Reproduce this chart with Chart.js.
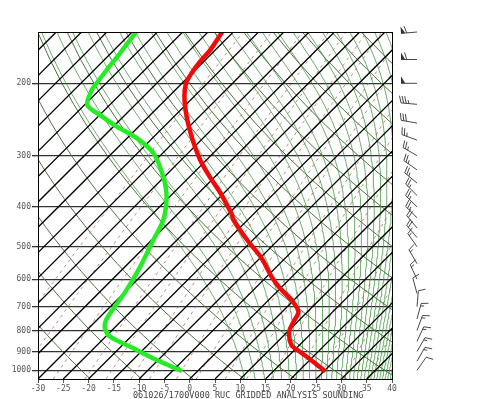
<!DOCTYPE html>
<html>
<head>
<meta charset="utf-8">
<script src="https://cdn.jsdelivr.net/npm/chart.js@4/dist/chart.umd.min.js"></script>
<style>
  body { margin: 0; background: #fff; }
  #wrap { width: 500px; height: 399px; }
</style>
</head>
<body>
<div id="wrap"><canvas id="skewt"></canvas></div>
<script>
// sounding: pressure (hPa) and temperature (C)
let tempP = [150, 166, 177, 189, 200, 216, 241, 270, 307, 338, 370, 415, 430, 481, 534, 592, 631, 674, 720, 761, 805, 868, 901, 953, 1000];
let tempC = [-62.2, -61.0, -60.7, -60.1, -59.2, -56.8, -52.5, -47.5, -41.3, -36.0, -30.7, -24.5, -22.8, -16.2, -9.6, -4.0, -0.1, 4.5, 8.2, 9.2, 10.3, 13.4, 16.4, 21.0, 24.8];
let dewP = [150, 169, 186, 200, 208, 226, 239, 255, 272, 296, 338, 378, 430, 481, 559, 637, 700, 754, 790, 828, 884, 944, 1000];
let dewC = [-79.2, -78.2, -77.5, -76.9, -76.5, -74.4, -69.9, -64.3, -58.1, -51.8, -45.2, -40.6, -36.7, -34.7, -32.0, -30.1, -29.1, -28.2, -26.8, -24.1, -17.2, -10.3, -3.6];

// wind barbs: level (hPa), direction (deg, from), speed (kt)
let barbP = [150, 175, 200, 225, 250, 275, 300, 325, 350, 375, 400, 425, 450, 475, 500, 550, 600, 650, 700, 750, 800, 850, 900, 950, 1000];
let barbDir = [265, 270, 270, 275, 280, 290, 300, 305, 310, 315, 315, 315, 320, 320, 325, 330, 335, 345, 5, 15, 20, 25, 30, 30, 35];
let barbSpd = [60, 60, 50, 35, 30, 25, 25, 25, 25, 25, 25, 25, 20, 20, 15, 15, 15, 10, 10, 15, 15, 15, 15, 15, 10];

let tempTicks = [-30, -25, -20, -15, -10, -5, 0, 5, 10, 15, 20, 25, 30, 35, 40];
let presTicks = [200, 300, 400, 500, 600, 700, 800, 900, 1000];
let footerLeft = "061026/1700V000";
let footerRight = "RUC GRIDDED ANALYSIS SOUNDING";

// diagram background families
let isotherms = [];
for (let t = -100; t <= 40; t += 5) isotherms.push(t);
let dryThetas = [];
for (let th = 240; th <= 430; th += 10) dryThetas.push(th);
let moistThetaE = [];
for (let te = 300; te <= 470; te += 5) moistThetaE.push(te);
let mixRatios = [0.1, 0.2, 0.4, 0.7, 1, 1.5, 2, 3, 4, 6, 8, 11, 15, 20, 27, 36];

const P_BOT = 1050, P_TOP = 150, SKEW = 35.26;

function skewX(t, p) {
  return t + SKEW * Math.log(P_BOT / p);
}

function es(t) {
  return 6.112 * Math.exp(17.67 * t / (t + 243.5));
}

function levels(step) {
  let out = [];
  for (let p = P_BOT; p >= P_TOP; p -= step) out.push(p);
  return out;
}

function moistRate(tK, p) {
  const e = es(tK - 273.15), rs = 0.622 * e / (p - e);
  const Rd = 287.04, cp = 1005.7, Lv = 2.501e6;
  return (Rd * tK + Lv * rs) / (cp + Lv * Lv * rs * 0.622 / (Rd * tK * tK)) / p;
}

function thetaE(tC, p) {
  const tK = tC + 273.15, e = es(tC), r = 0.622 * e / (p - e);
  return tK * Math.pow(1000 / p, 0.2857) * Math.exp(2.501e6 * r / (1005.7 * tK));
}

function moistLine(te) {
  // find start temperature at the bottom for this theta-e
  let lo = -80, hi = 50;
  for (let k = 0; k < 50; k++) {
    let mid = (lo + hi) / 2;
    if (thetaE(mid, P_BOT) > te) hi = mid; else lo = mid;
  }
  let tK = (lo + hi) / 2 + 273.15, p = P_BOT, dp = -10;
  let pts = [{ x: skewX(tK - 273.15, p), y: p }];
  while (p + dp >= P_TOP - 0.01) {
    let k1 = moistRate(tK, p);
    let k2 = moistRate(tK + 0.5 * dp * k1, p + 0.5 * dp);
    tK += dp * k2;
    p += dp;
    pts.push({ x: skewX(tK - 273.15, p), y: p });
  }
  return pts;
}

function bgLine(data, color, width, dash) {
  return {
    data: data, showLine: true, borderColor: color, borderWidth: width,
    borderDash: dash || [], pointRadius: 0, tension: 0
  };
}

let datasets = [];
datasets.push({
  label: "Temperature",
  data: tempP.map((p, i) => ({ x: skewX(tempC[i], p), y: p })),
  showLine: true, borderColor: "rgb(240,10,10)", borderWidth: 4.5,
  pointRadius: 0, tension: 0.3, borderCapStyle: "round", borderJoinStyle: "round"
});
datasets.push({
  label: "Dew point",
  data: dewP.map((p, i) => ({ x: skewX(dewC[i], p), y: p })),
  showLine: true, borderColor: "rgb(40,235,40)", borderWidth: 4.5,
  pointRadius: 0, tension: 0.3, borderCapStyle: "round", borderJoinStyle: "round"
});
isotherms.forEach(t => {
  datasets.push(bgLine([{ x: skewX(t, P_BOT), y: P_BOT }, { x: skewX(t, P_TOP), y: P_TOP }], "#000", 1.3));
});
mixRatios.forEach(w => {
  let pts = levels(25).map(p => {
    let l = Math.log((w * p / (622 + w)) / 6.112);
    return { x: skewX(243.5 * l / (17.67 - l), p), y: p };
  });
  datasets.push(bgLine(pts, "rgba(165,105,85,0.85)", 0.9, [3, 4]));
});
dryThetas.forEach(th => {
  let pts = levels(25).map(p => ({ x: skewX(th * Math.pow(p / 1000, 0.2857) - 273.15, p), y: p }));
  datasets.push(bgLine(pts, "rgb(75,115,60)", 1));
});
moistThetaE.forEach(te => {
  datasets.push(bgLine(moistLine(te), "rgba(60,150,60,0.85)", 0.9));
});

function drawBarb(ctx, x, y, dir, spd) {
  const a = dir * Math.PI / 180;
  const ux = Math.sin(a), uy = -Math.cos(a);   // towards the tail
  const fx = Math.cos(a), fy = Math.sin(a);    // feather side
  const L = 16, B = 7, gap = 2.6;
  const tipX = fx * B + ux * 2.2, tipY = fy * B + uy * 2.2;
  ctx.beginPath();
  ctx.moveTo(x, y);
  ctx.lineTo(x + ux * L, y + uy * L);
  ctx.stroke();
  let s = Math.round(spd / 5) * 5, d = L;
  while (s >= 50) {
    let bx = x + ux * d, by = y + uy * d;
    ctx.beginPath();
    ctx.moveTo(bx, by);
    ctx.lineTo(bx + fx * B, by + fy * B);
    ctx.lineTo(bx - ux * gap * 1.6, by - uy * gap * 1.6);
    ctx.closePath();
    ctx.fill();
    d -= gap * 2.2;
    s -= 50;
  }
  while (s >= 10) {
    let bx = x + ux * d, by = y + uy * d;
    ctx.beginPath();
    ctx.moveTo(bx, by);
    ctx.lineTo(bx + tipX, by + tipY);
    ctx.stroke();
    d -= gap;
    s -= 10;
  }
  if (s >= 5) {
    if (d === L) d -= gap;
    let bx = x + ux * d, by = y + uy * d;
    ctx.beginPath();
    ctx.moveTo(bx, by);
    ctx.lineTo(bx + tipX / 2, by + tipY / 2);
    ctx.stroke();
  }
}

const framePlugin = {
  id: "frame",
  afterDraw(chart) {
    const ctx = chart.ctx, a = chart.chartArea, yS = chart.scales.y;
    ctx.save();
    ctx.strokeStyle = "#000";
    ctx.lineWidth = 1;
    ctx.strokeRect(a.left + 0.5, a.top + 0.5, a.right - a.left, a.bottom - a.top);

    ctx.strokeStyle = "#333";
    ctx.fillStyle = "#333";
    ctx.lineWidth = 0.9;
    const x0 = a.right + 25;
    barbP.forEach((p, i) => drawBarb(ctx, x0, yS.getPixelForValue(p), barbDir[i], barbSpd[i]));

    ctx.fillStyle = "#444";
    ctx.font = '8.5px "DejaVu Sans Mono"';
    ctx.textBaseline = "alphabetic";
    ctx.fillText(footerLeft, 133, 398);
    ctx.fillText(footerRight, 215, 398);
    ctx.restore();
  }
};

const tickFont = { family: "DejaVu Sans Mono", size: 8 };

let chart = new Chart(document.getElementById("skewt"), {
  type: "scatter",
  data: { datasets: datasets },
  options: {
    responsive: true,
    maintainAspectRatio: false,
    animation: false,
    events: [],
    layout: { padding: { top: 32, right: 108, bottom: 0, left: 0 } },
    plugins: { legend: { display: false }, tooltip: { enabled: false } },
    scales: {
      x: {
        type: "linear", min: -30, max: 40,
        afterBuildTicks: s => { s.ticks = tempTicks.map(v => ({ value: v })); },
        afterFit: s => { s.height = 20; },
        grid: { drawOnChartArea: false, tickLength: 4, color: "#555" },
        border: { color: "#000" },
        ticks: { font: tickFont, color: "#555", padding: 1, maxRotation: 0, autoSkip: false, callback: v => String(v) }
      },
      y: {
        type: "logarithmic", reverse: true, min: P_TOP, max: P_BOT,
        afterBuildTicks: s => { s.ticks = presTicks.map(v => ({ value: v })); },
        afterFit: s => { s.width = 38; },
        grid: { color: "#333", lineWidth: 1.3, tickLength: 6 },
        border: { color: "#000" },
        ticks: { font: tickFont, color: "#555", padding: 1, autoSkip: false, callback: v => String(v) }
      }
    }
  },
  plugins: [framePlugin]
});
</script>
</body>
</html>
